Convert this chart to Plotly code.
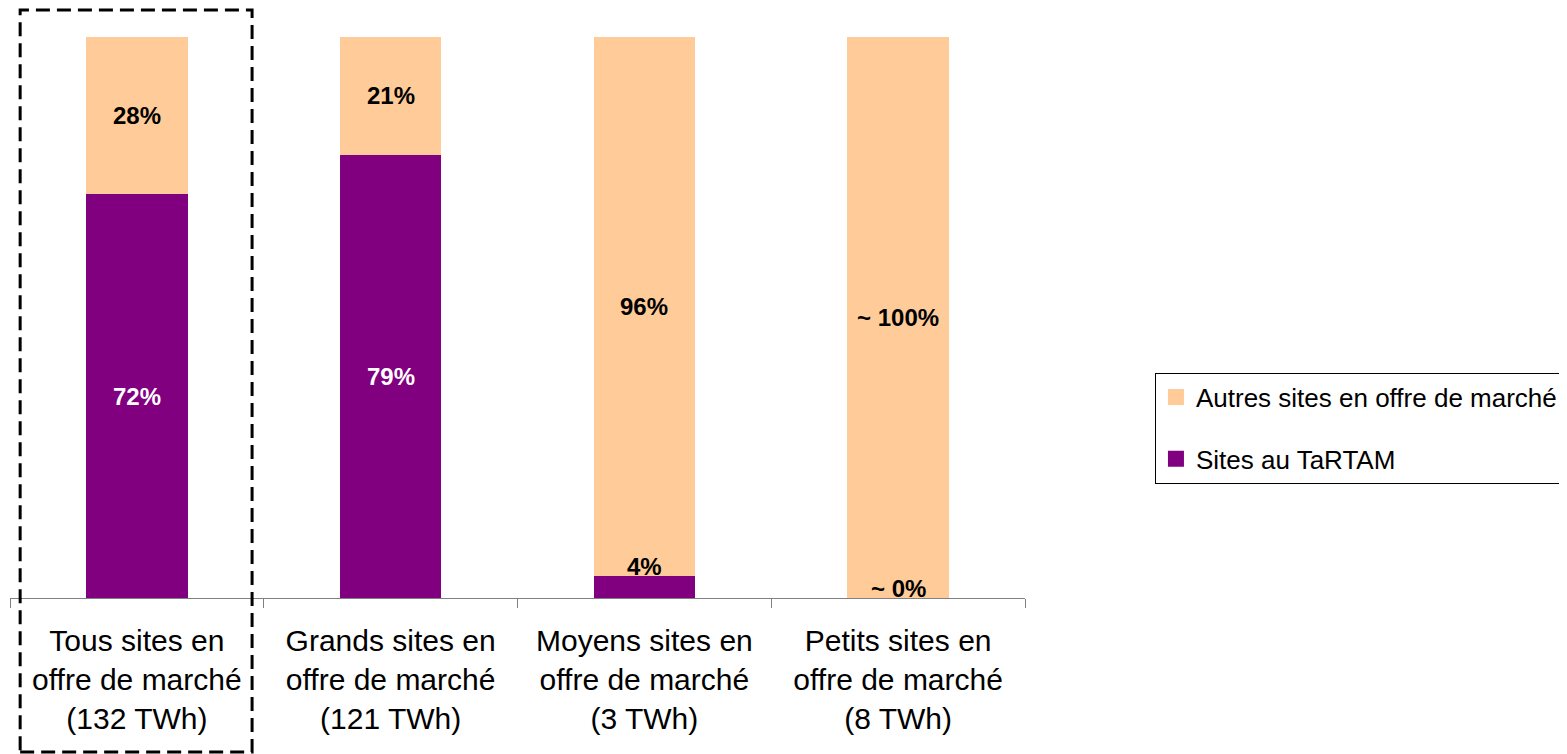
import plotly.graph_objects as go

# Données
categories = [
    "Tous sites en<br>offre de marché<br>(132 TWh)",
    "Grands sites en<br>offre de marché<br>(121 TWh)",
    "Moyens sites en<br>offre de marché<br>(3 TWh)",
    "Petits sites en<br>offre de marché<br>(8 TWh)",
]
tartam = [72, 79, 4, 0]
autres = [28, 21, 96, 100]
tartam_labels = ["72%", "79%", "4%", "~ 0%"]
autres_labels = ["28%", "21%", "96%", "~ 100%"]

PURPLE = "#800080"
ORANGE = "#FFCC99"
FONT = "Liberation Sans, Arial, sans-serif"

fig = go.Figure()

fig.add_trace(go.Bar(x=categories, y=tartam, marker_color=PURPLE, marker_line_width=0,
                     width=0.4, showlegend=False, hoverinfo="skip"))
fig.add_trace(go.Bar(x=categories, y=autres, marker_color=ORANGE, marker_line_width=0,
                     width=0.4, showlegend=False, hoverinfo="skip"))

# Légende (carrés plus grands que ceux des barres)
fig.add_trace(go.Scatter(x=[None], y=[None], mode="markers", name="Autres sites en offre de marché",
                         marker=dict(symbol="square", size=17, color=ORANGE),
                         legendgroup="a"))
fig.add_trace(go.Scatter(x=[None], y=[None], mode="markers", name="Sites au TaRTAM",
                         marker=dict(symbol="square", size=17, color=PURPLE),
                         legendgroup="b"))

# Étiquettes de valeurs
for cat, t, a, tl, al in zip(categories, tartam, autres, tartam_labels, autres_labels):
    if t >= 10:
        fig.add_annotation(x=cat, y=t / 2, text=f"<b>{tl}</b>", showarrow=False,
                           font=dict(size=24, color="white", family=FONT))
    else:
        fig.add_annotation(x=cat, y=t, text=f"<b>{tl}</b>", showarrow=False,
                           yanchor="bottom", yshift=-6,
                           font=dict(size=24, color="black", family=FONT))
    fig.add_annotation(x=cat, y=t + a / 2, text=f"<b>{al}</b>", showarrow=False,
                       font=dict(size=24, color="black", family=FONT))

# Cadre en pointillés autour de la première catégorie
fig.add_shape(type="rect", xref="x", yref="paper", x0=-0.46, x1=0.454, y0=-0.2745, y1=1.048,
              line=dict(color="black", width=3, dash="14px,7px"), layer="above")

# la page ajoute une marge de 8 px autour du graphique
fig.update_layout(
    barmode="stack",
    width=1559, height=746,
    margin=dict(l=2, r=542, t=29, b=156),
    plot_bgcolor="white", paper_bgcolor="white",
    font=dict(family=FONT, color="black"),
    legend=dict(x=1.530, y=0.303, xanchor="right", yanchor="middle",
                traceorder="grouped", tracegroupgap=25,
                bordercolor="black", borderwidth=1,
                font=dict(size=26, family=FONT), bgcolor="white"),
)
fig.update_xaxes(showline=True, linecolor="#808080", linewidth=1,
                 ticks="outside", tickson="boundaries", ticklen=9, tickcolor="#808080",
                 ticklabelstandoff=16,
                 tickfont=dict(size=30, family=FONT, color="black"), tickangle=0)
fig.update_yaxes(range=[0, 100], visible=False, showgrid=False)

fig.write_html("out.html")
